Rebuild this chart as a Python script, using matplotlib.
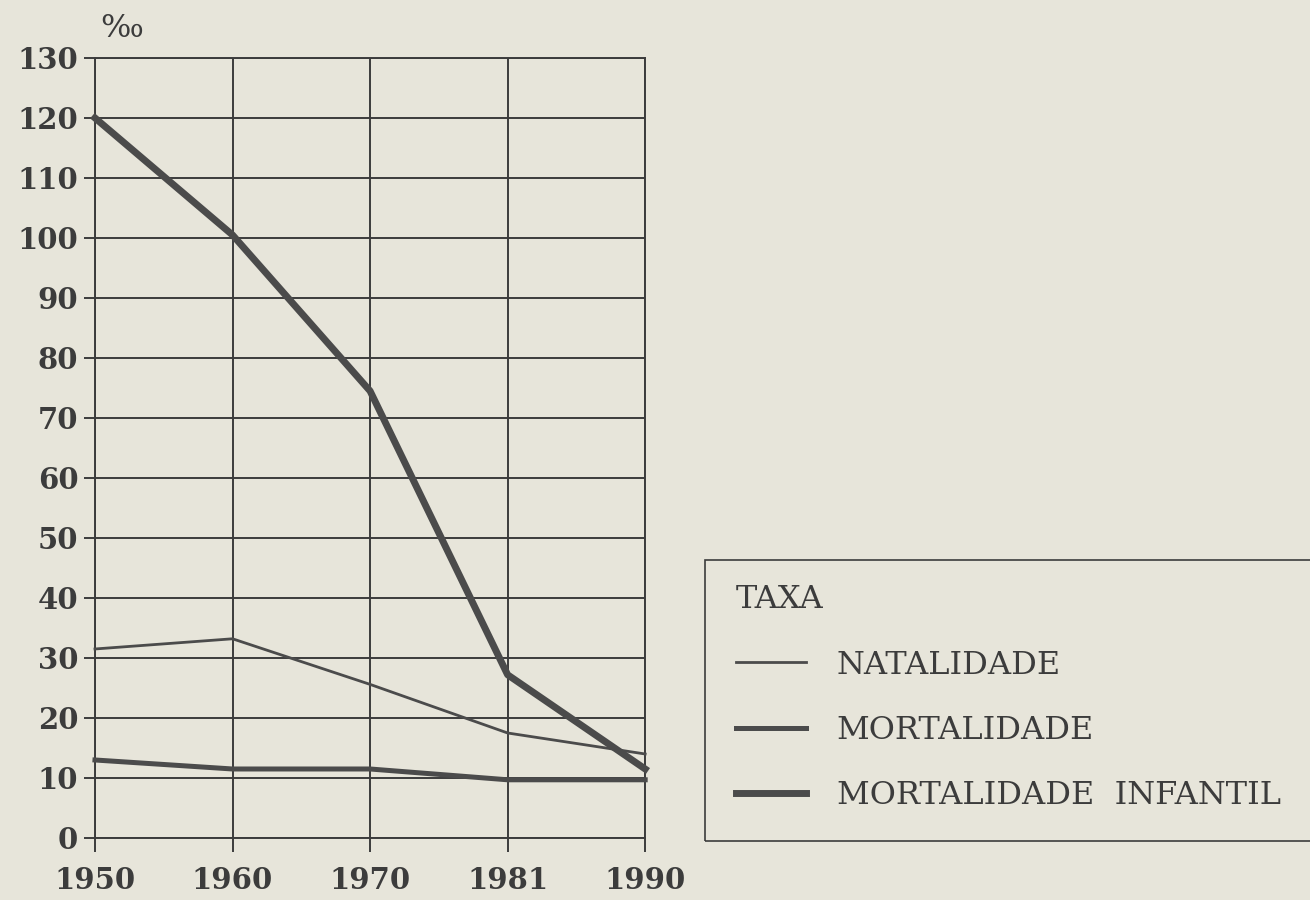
import matplotlib.pyplot as plt
from matplotlib.patches import Rectangle

years = ["1950", "1960", "1970", "1981", "1990"]
natalidade = [31.5, 33.2, 25.6, 17.5, 14.0]
mortalidade = [13.0, 11.5, 11.5, 9.7, 9.7]
mort_infantil = [120.0, 100.5, 74.5, 27.2, 11.5]
y_ticks = list(range(0, 131, 10))
labels = ["NATALIDADE", "MORTALIDADE", "MORTALIDADE  INFANTIL"]

BG = "#e7e5da"
INK = "#3c3c3c"
LINE = "#4b4b4b"

plt.rcParams["font.family"] = ["DejaVu Serif", "DejaVu Sans"]

fig = plt.figure(figsize=(13.1, 9), dpi=100, facecolor=BG)
ax = fig.add_axes([0.0725, 0.0689, 0.4200, 0.8667], facecolor=BG)

x = range(len(years))
ax.plot(x, natalidade, color=LINE, lw=2.0, clip_on=False, label=labels[0], zorder=3)
ax.plot(x, mortalidade, color=LINE, lw=3.6, clip_on=False, label=labels[1], zorder=3)
ax.plot(x, mort_infantil, color=LINE, lw=5.0, clip_on=False, label=labels[2], zorder=3)

ax.set_xlim(0, len(years) - 1)
ax.set_ylim(0, 130)
ax.set_xticks(list(x))
ax.set_xticklabels(years, fontsize=21, fontweight="bold", color=INK)
ax.set_yticks(y_ticks)
ax.set_yticklabels([str(v) for v in y_ticks], fontsize=21, fontweight="bold", color=INK)
ax.tick_params(axis="y", length=8, width=1.4, color=INK, pad=4)
ax.tick_params(axis="x", length=10, width=1.4, color=INK, pad=10)
ax.grid(True, color=INK, lw=1.4, zorder=1)
for s in ax.spines.values():
    s.set_color(INK)
    s.set_linewidth(1.4)

ax.text(0.01, 1.018, "\u2030", transform=ax.transAxes, fontsize=23, color=INK,
        ha="left", va="bottom")

# legend frame (runs off the right edge like the scan)
fig.add_artist(Rectangle((705 / 1310, 59 / 900), 0.6, 281 / 900, transform=fig.transFigure,
                         facecolor="none", edgecolor=INK, lw=1.2))

leg = fig.legend(loc="upper left", bbox_to_anchor=(736 / 1310, 1 - 584 / 900),
                 title="TAXA", alignment="left",
                 fontsize=23, title_fontsize=23, frameon=False,
                 handlelength=2.2, handletextpad=0.95,
                 labelspacing=1.08, borderpad=0, borderaxespad=0)
for t in leg.get_texts():
    t.set_color(INK)
leg.get_title().set_color(INK)

fig.savefig("out.png", dpi=100, facecolor=BG)
